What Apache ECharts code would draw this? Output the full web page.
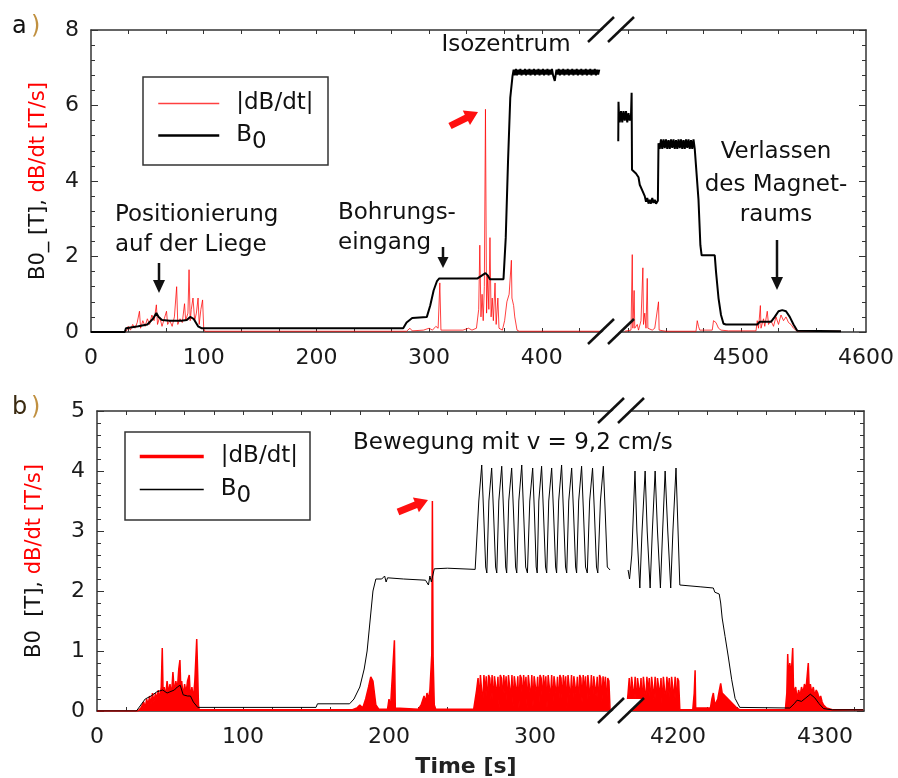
<!DOCTYPE html>
<html><head><meta charset="utf-8">
<script src="https://cdn.jsdelivr.net/npm/echarts@6/dist/echarts.min.js"></script>
<style>html,body{margin:0;padding:0;background:#fff}#c{width:898px;height:778px}</style>
</head><body><div id="c"></div>
<script>
const FONT = 'DejaVu Sans';

// ---------- Panel a) data ----------
const aDbdtLeft = [[0,0],[30,0],[32,0.05],[33,0.15],[35,0.05],[37,0.2],[39,0.1],[41,0.25],[43,0.55],[44,0.1],[46,0.3],[48,0.15],[50,0.35],[52,0.2],[54,0.45],[56,0.3],[58,0.72],[59,0.2],[61,0.4],[63,0.15],[65,0.35],[67,0.55],[68,0.2],[70,0.3],[72,0.15],[74,0.4],[76,1.2],[77,0.2],[79,0.35],[81,0.25],[83,0.75],[84,0.3],[86,0.5],[87,1.65],[88,0.3],[89,0.6],[90.5,0.9],[92,0.3],[93.5,0.5],[95,0.9],[96,0.2],[97.5,0.6],[99,0.85],[100,0.1],[101,0.02],[280,0.02],[283,0.1],[285,0.03],[295,0.05],[300,0.1],[303,0.05],[306,0.15],[308,0.1],[309.5,1.3],[310.5,0.05],[330,0.05],[335,0.1],[338,0.05],[342,0.1],[344,0.6],[345,2.3],[346,0.4],[347,1.0],[348,0.3],[349,1.2],[350,5.9],[351,0.5],[352,1.5],[353,0.6],[354,2.5],[355,0.4],[356,0.9],[357,0.3],[358.5,1.3],[359.5,0.2],[361,0.9],[362,0.1],[365,0.05],[367,0.3],[369,0.8],[371,1.0],[373,1.9],[373.5,0.9],[375,0.7],[376,0.4],[378,0.05],[380,0.02],[452,0.02]];
const aDbdtRight = [[4407,0.02],[4412,0.05],[4413,2.05],[4413.5,0.1],[4414.5,1.1],[4415,0.1],[4417,0.2],[4418,0.05],[4420,0.3],[4421.5,1.7],[4422,0.2],[4423,0.5],[4424,0.1],[4425,1.42],[4425.5,0.1],[4427,0.15],[4429,0.05],[4431,0.1],[4434,0.8],[4434.5,0.05],[4440,0.02],[4464,0.02],[4465,0.3],[4466,0.15],[4467,0.05],[4477,0.05],[4478,0.3],[4480,0.25],[4482,0.1],[4484,0.05],[4490,0.03],[4512,0.03],[4513,0.3],[4514,0.1],[4515.5,0.7],[4516,0.1],[4518,0.35],[4519,0.15],[4521,0.55],[4522,0.2],[4524,0.3],[4526,0.15],[4528,0.4],[4530,0.2],[4532,0.45],[4534,0.3],[4536,0.4],[4538,0.25],[4540,0.2],[4542,0.1],[4545,0.02],[4580,0.02]];
const aB0Left = [[0,0],[30,0],[31,0.1],[42,0.15],[50,0.2],[55,0.35],[58,0.5],[60,0.4],[63,0.32],[70,0.3],[80,0.3],[85,0.32],[88,0.4],[91,0.35],[95,0.15],[98,0.1],[150,0.1],[200,0.1],[277,0.1],[280,0.25],[285,0.37],[298,0.4],[301,0.7],[304,1.1],[307,1.35],[309,1.42],[343,1.42],[347,1.5],[350,1.56],[352,1.5],[354,1.4],[366,1.4],[368,2.5],[370,4.5],[372,6.2],[374,6.78],[375,6.95],[376,6.8],[377,6.97],[378,6.8],[379,6.95],[380,6.82],[381,6.97],[382,6.8],[383,6.94],[384,6.82],[385,6.97],[386,6.8],[387,6.95],[388,6.82],[389,6.97],[390,6.8],[391,6.95],[392,6.82],[393,6.97],[394,6.8],[395,6.95],[396,6.82],[397,6.97],[398,6.8],[399,6.95],[400,6.82],[401,6.97],[402,6.8],[403,6.95],[404,6.82],[405,6.97],[406,6.8],[407,6.95],[408,6.82],[409,6.97],[410,6.8],[411.5,6.65],[413,6.95],[414,6.82],[415,6.97],[416,6.8],[417,6.95],[418,6.82],[419,6.97],[420,6.8],[421,6.95],[422,6.82],[423,6.97],[424,6.8],[425,6.95],[426,6.82],[427,6.97],[428,6.8],[429,6.95],[430,6.82],[431,6.97],[432,6.8],[433,6.95],[434,6.82],[435,6.97],[436,6.8],[437,6.95],[438,6.82],[439,6.97],[440,6.8],[441,6.95],[442,6.82],[443,6.97],[444,6.8],[445,6.95],[446,6.82],[447,6.97],[448,6.8],[449,6.95],[450,6.82],[451,6.95]];
const aB0Right = [[4401.8,5.05],[4402,6.1],[4402.3,5.8],[4403,5.55],[4404,5.85],[4405,5.55],[4406,5.85],[4407,5.6],[4408,5.85],[4409,5.55],[4410,5.8],[4411,5.6],[4412,5.75],[4412.5,6.34],[4412.8,4.3],[4414,4.25],[4416,4.2],[4418,4.1],[4419,3.9],[4421,3.75],[4423,3.6],[4424,3.45],[4425,3.55],[4426,3.4],[4427,3.5],[4428,3.4],[4429,3.55],[4430,3.42],[4431,3.5],[4432,3.4],[4433.5,3.48],[4434,5.0],[4435,4.85],[4436,5.1],[4437,4.85],[4438,5.1],[4439,4.87],[4440,5.1],[4441,4.85],[4442,5.08],[4443,4.85],[4444,5.1],[4445,4.88],[4446,5.1],[4447,4.85],[4448,5.08],[4449,4.85],[4450,5.1],[4451,4.87],[4452,5.1],[4453,4.85],[4454,5.08],[4455,4.85],[4456,5.1],[4457,4.88],[4458,5.1],[4459,4.85],[4460,5.08],[4461,4.85],[4462,5.1],[4463,4.85],[4464.5,4.9],[4466,3.5],[4467.5,2.3],[4468.5,2.03],[4479,2.03],[4480,1.6],[4482,0.9],[4484,0.45],[4486,0.22],[4488,0.2],[4513,0.2],[4515,0.27],[4524,0.27],[4527,0.4],[4530,0.55],[4533,0.58],[4536,0.55],[4539,0.4],[4542,0.2],[4545,0.03],[4580,0.02]];

// ---------- Panel b) data ----------
const bDbdtLeft = [[0,0],[28,0],[30,0.05],[32,0.15],[33,0.05],[34,0.2],[35,0.1],[36,0.25],[37,0.12],[38,0.3],[39,0.15],[40,0.3],[41,0.2],[42,0.35],[43,0.2],[44,0.4],[44.7,1.05],[45.3,0.25],[46,0.4],[47,0.25],[48,0.5],[49,0.3],[50,0.45],[51,0.25],[52,0.65],[53,0.3],[54,0.5],[55,0.35],[56,0.7],[56.8,0.85],[57.5,0.3],[58,0.5],[59,0.25],[60,0.45],[61,0.3],[62,0.5],[63.2,0.6],[64,0.2],[65,0.4],[66,0.2],[67,0.5],[68.3,1.2],[69,0.6],[69.5,0.1],[70,0.02],[175,0.02],[178,0.05],[180,0.1],[182,0.05],[184,0.2],[186,0.4],[187.5,0.57],[189,0.5],[190,0.3],[191,0.1],[193,0.03],[199,0.03],[200,0.2],[201,0.05],[203.7,1.18],[204.3,0.05],[220,0.03],[222,0.1],[224,0.25],[225,0.15],[226,0.3],[227,0.2],[228,0.35],[229.3,0.95],[229.7,3.5],[230.2,0.9],[231,0.1],[232,0.03],[258,0.03],
[259.0,0.05],[260.0,0.35],[261.0,0.55],[261.8,0.15],[262.6,0.6],[263.4,0.58],[264.2,0.1],[265.0,0.6],[265.8,0.3],[266.6,0.58],[267.4,0.05],[268.2,0.6],[269.0,0.55],[269.8,0.2],[270.6,0.6],[271.4,0.08],[272.2,0.58],[273.0,0.6],[273.8,0.25],[274.6,0.57],[275.4,0.05],[276.2,0.6],[277.0,0.55],[277.8,0.15],[278.6,0.6],[279.4,0.3],[280.2,0.58],[281.0,0.05],[281.8,0.6],[282.6,0.57],[283.4,0.2],[284.2,0.6],[285.0,0.08],[285.8,0.58],[286.6,0.6],[287.4,0.25],[288.2,0.58],[289.0,0.05],[289.8,0.6],[290.6,0.55],[291.4,0.15],[292.2,0.6],[293.0,0.3],[293.8,0.57],[294.6,0.05],[295.4,0.6],[296.2,0.58],[297.0,0.2],[297.8,0.6],[298.6,0.08],[299.4,0.58],[300.2,0.6],[301.0,0.25],[301.8,0.57],[302.6,0.05],[303.4,0.6],[304.2,0.55],[305.0,0.15],[305.8,0.6],[306.6,0.3],[307.4,0.58],[308.2,0.05],[309.0,0.6],[309.8,0.57],[310.6,0.2],[311.4,0.6],[312.2,0.08],[313.0,0.58],[313.8,0.6],[314.6,0.25],[315.4,0.57],[316.2,0.05],[317.0,0.6],[317.8,0.55],[318.6,0.15],[319.4,0.6],[320.2,0.3],[321.0,0.58],[321.8,0.05],[322.6,0.6],[323.4,0.57],[324.2,0.2],[325.0,0.6],[325.8,0.08],[326.6,0.58],[327.4,0.6],[328.2,0.25],[329.0,0.57],[329.8,0.05],[330.6,0.6],[331.4,0.55],[332.2,0.15],[333.0,0.6],[333.8,0.3],[334.6,0.58],[335.4,0.05],[336.2,0.6],[337.0,0.57],[337.8,0.2],[338.6,0.6],[339.4,0.08],[340.2,0.58],[341.0,0.6],[341.8,0.25],[342.6,0.57],[343.4,0.05],[344.2,0.6],[345.0,0.55],[345.8,0.15],[346.6,0.58],[347.4,0.3],[348.2,0.57],[349.0,0.05],[349.8,0.55],[350.6,0.5],[351.4,0.02]];
const bDbdtRight = [[4165,0.02],[4166,0.3],[4166.8,0.55],[4167.6,0.1],[4168.4,0.57],[4169.2,0.55],[4170,0.2],[4170.8,0.57],[4171.6,0.05],[4172.4,0.55],[4173.2,0.57],[4174,0.25],[4174.8,0.55],[4175.6,0.05],[4176.4,0.57],[4177.2,0.55],[4178,0.15],[4178.8,0.57],[4179.6,0.3],[4180.4,0.55],[4181.2,0.05],[4182,0.57],[4182.8,0.55],[4183.6,0.2],[4184.4,0.57],[4185.2,0.08],[4186,0.55],[4186.8,0.57],[4187.6,0.25],[4188.4,0.55],[4189.2,0.05],[4190,0.57],[4190.8,0.55],[4191.6,0.15],[4192.4,0.57],[4193.2,0.3],[4194,0.55],[4194.8,0.05],[4195.6,0.57],[4196.4,0.55],[4197.2,0.2],[4198,0.57],[4198.8,0.08],[4199.6,0.55],[4200.4,0.5],[4201.2,0.02],[4210,0.02],[4211,0.3],[4211.6,0.68],[4212,0.05],[4222,0.05],[4223,0.2],[4224,0.3],[4225,0.1],[4227,0.2],[4229,0.46],[4230,0.3],[4232,0.25],[4234,0.2],[4236,0.15],[4238,0.1],[4240,0.05],[4242,0.02],[4273,0.02],[4274,0.3],[4274.6,0.95],[4275.2,0.5],[4276,0.8],[4277,0.6],[4278,1.05],[4278.6,0.3],[4280,0.4],[4281,0.2],[4282,0.35],[4283,0.25],[4284,0.4],[4285,0.3],[4286,0.45],[4287,0.35],[4288.6,0.8],[4289.3,0.3],[4290,0.45],[4291,0.3],[4292,0.4],[4293,0.25],[4294,0.35],[4295,0.3],[4296,0.2],[4297,0.25],[4298,0.15],[4299,0.1],[4301,0.05],[4305,0.02],[4326,0.02]];
const bB0Left = [[0,0],[27,0],[30,0.1],[33,0.2],[37,0.25],[41,0.32],[45,0.35],[48,0.3],[50,0.32],[53,0.35],[55,0.4],[57,0.43],[59,0.27],[62,0.25],[64,0.25],[66,0.15],[69,0.06],[100,0.06],[150,0.06],[151,0.12],[173,0.12],[176,0.2],[180,0.4],[183,0.7],[185,1.0],[187,1.5],[189,2.0],[191,2.2],[195,2.2],[197,2.25],[198,2.15],[199,2.22],[210,2.2],[225,2.18],[227,2.1],[228,2.25],[229,2.15],[231,2.37],[240,2.38],[259,2.36],
[261.5,3.5],[263.5,4.1],[264.8,3.3],[266.2,2.4],[267.0,2.3],[268.4,3.5],[270.3,4.05],[271.6,3.3],[273.0,2.4],[273.8,2.3],[275.2,3.5],[277.2,4.08],[278.5,3.3],[279.9,2.4],[280.6,2.3],[282.0,3.5],[284.0,4.05],[285.3,3.3],[286.7,2.4],[287.5,2.3],[288.9,3.5],[290.9,4.1],[292.2,3.3],[293.6,2.4],[294.8,2.3],[296.4,3.5],[298.4,4.05],[299.6,3.3],[300.8,2.4],[301.5,2.3],[302.6,3.5],[304.5,4.08],[305.8,3.3],[307.2,2.4],[308.0,2.3],[309.4,3.5],[311.4,4.05],[312.7,3.3],[314.1,2.4],[314.8,2.3],[316.2,3.5],[318.2,4.1],[319.5,3.3],[320.9,2.4],[321.7,2.3],[323.1,3.5],[325.1,4.05],[326.4,3.3],[327.8,2.4],[328.5,2.3],[329.9,3.5],[331.9,4.08],[333.2,3.3],[334.6,2.4],[335.8,2.3],[337.4,3.5],[339.4,4.05],[340.7,3.3],[342.1,2.4],[343.0,2.3],[344.8,3.5],[346.8,4.08],[348.1,3.3],[349.5,2.4],[351.4,2.35]];
const bB0Right = [[4166,2.35],[4167,2.2],[4168.5,2.6],[4170.7,4.0],[4172,3.0],[4174,2.05],[4175.5,3.0],[4177.6,4.0],[4179,3.0],[4181,2.05],[4182.5,3.0],[4184.4,4.0],[4186,3.0],[4188,2.05],[4189.5,3.0],[4191.2,4.0],[4193,3.0],[4195,2.05],[4196.5,3.0],[4198.6,4.05],[4200,3.0],[4201.2,2.1],[4202,2.08],[4215,2.07],[4224,2.05],[4225,1.98],[4228,1.95],[4229,1.8],[4230,1.55],[4232,1.24],[4234.2,0.9],[4236.5,0.52],[4238.8,0.21],[4242,0.06],[4276,0.05],[4279,0.12],[4281,0.18],[4284,0.16],[4287,0.22],[4290,0.28],[4293,0.22],[4296,0.12],[4299,0.04],[4305,0.02],[4326,0.02]];

// ---------- ticks & labels ----------
const aLabelsLeft = [0,100,200,300,400];
const aTicksLeft = [33.33,66.67,100,133.33,166.67,200,233.33,266.67,300,333.33,366.67,400,433.33];
const aLabelsRight = [4500,4600];
const aTicksRight = [4410,4440,4470,4500,4530,4560,4590];
const bLabelsLeft = [0,100,200,300];
const bTicksLeft = [20,40,60,80,100,120,140,160,180,200,220,240,260,280,300,320,340];
const bLabelsRight = [4200,4300];
const bTicksRight = [4180,4200,4220,4240,4260,4280,4300,4320];

const FRAME = '#333';
function xAx(grid, min, max, pos, labels, ticks) {
  return {
    type: 'value', gridIndex: grid, position: pos, min: min, max: max,
    axisLine: { show: true, onZero: false, lineStyle: { color: FRAME, width: 1.5 } },
    axisTick: { show: true, inside: true, length: 4, customValues: ticks, lineStyle: { color: FRAME, width: 1 } },
    axisLabel: { show: pos === 'bottom', customValues: labels, margin: 15, fontSize: 22, fontFamily: FONT, color: '#1a1a1a',
      formatter: function (v) { return String(Math.round(v)); } },
    splitLine: { show: false }, minorTick: { show: false }, minorSplitLine: { show: false }
  };
}
function yAx(grid, max, interval, pos, showLabels, name, nameGap) {
  const o = {
    type: 'value', gridIndex: grid, position: pos, min: 0, max: max, interval: interval,
    axisLine: { show: true, onZero: false, lineStyle: { color: FRAME, width: 1.5 } },
    axisTick: { show: true, inside: true, length: 7, lineStyle: { color: FRAME, width: 1 } },
    minorTick: { show: true, splitNumber: 5, length: 4, lineStyle: { color: FRAME, width: 1 } },
    axisLabel: { show: showLabels, margin: 12, fontSize: 22, fontFamily: FONT, color: '#1a1a1a' },
    splitLine: { show: false }, minorSplitLine: { show: false }
  };
  if (name) {
    o.name = name; o.nameLocation = 'middle'; o.nameGap = nameGap;
    o.nameTextStyle = { fontSize: 21, fontFamily: FONT,
      rich: { k: { fontSize: 21, fontFamily: FONT, color: '#111' }, r: { fontSize: 21, fontFamily: FONT, color: '#ff0000' } } };
  }
  return o;
}
function lineSeries(name, data, xi, yi, color, width, area) {
  const s = { type: 'line', name: name, data: data, xAxisIndex: xi, yAxisIndex: yi,
    symbol: 'none', showSymbol: false, smooth: false, animation: false, silent: true, clip: true,
    lineStyle: { color: color, width: width }, itemStyle: { color: color } };
  if (area) s.areaStyle = { color: color, opacity: 1 };
  return s;
}
function arrowDown(x, y1, y2, y3, hw) {
  return [
    { type: 'line', z: 100, shape: { x1: x, y1: y1, x2: x, y2: y2 + 1 }, style: { stroke: '#111', lineWidth: 2.5 } },
    { type: 'polygon', z: 100, shape: { points: [[x - hw, y2], [x + hw, y2], [x, y3]] }, style: { fill: '#111' } }
  ];
}
function txt(x, y, s, size, align, color) {
  return { type: 'text', z: 100, x: x, y: y,
    style: { text: s, fontSize: size, fontFamily: FONT, fill: color || '#111', align: align || 'left', verticalAlign: 'middle' } };
}
function breakMark(x, y) {
  return [
    { type: 'polygon', z: 99, shape: { points: [[x - 20, y + 12], [x + 5, y - 12], [x + 22, y - 12], [x - 3, y + 12]] }, style: { fill: '#fff' } },
    { type: 'line', z: 100, shape: { x1: x - 22, y1: y + 12, x2: x + 4, y2: y - 13 }, style: { stroke: '#111', lineWidth: 2.5 } },
    { type: 'line', z: 100, shape: { x1: x - 2, y1: y + 12, x2: x + 24, y2: y - 13 }, style: { stroke: '#111', lineWidth: 2.5 } }
  ];
}
function redArrow(pts) {
  return { type: 'polygon', z: 100, shape: { points: pts }, style: { fill: '#ff1010' } };
}

const legendNames = { dBdt_a: '|dB/dt|', B0_a: 'B{s|0}', dBdt_b: '|dB/dt|', B0_b: 'B{s|0}' };
function legend(items, left, top, w, gap) {
  return {
    data: items, orient: 'vertical', left: left, top: top, itemWidth: w, itemHeight: 24, itemGap: gap,
    selectedMode: false, padding: 0,
    itemStyle: { opacity: 0, borderWidth: 0 },
    formatter: function (n) { return legendNames[n]; },
    textStyle: { fontSize: 23, fontFamily: FONT, color: '#111', padding: [0, 0, 0, 12],
      rich: { s: { fontSize: 23, fontFamily: FONT, color: '#111', padding: [14, 0, 0, 0] } } }
  };
}

const chart = echarts.init(document.getElementById('c'), null, { renderer: 'canvas' });
chart.setOption({
  animation: false,
  backgroundColor: '#fff',
  textStyle: { fontFamily: FONT },
  grid: [
    { left: 91, top: 30, width: 519, height: 302, containLabel: false, outerBoundsMode: 'none' },
    { left: 610, top: 30, width: 256, height: 302, containLabel: false, outerBoundsMode: 'none' },
    { left: 97, top: 411, width: 523, height: 300, containLabel: false, outerBoundsMode: 'none' },
    { left: 620, top: 411, width: 244, height: 300, containLabel: false, outerBoundsMode: 'none' }
  ],
  xAxis: [
    xAx(0, 0, 460.5, 'bottom', aLabelsLeft, aTicksLeft),
    xAx(0, 0, 460.5, 'top', aLabelsLeft, aTicksLeft),
    xAx(1, 4395.2, 4600, 'bottom', aLabelsRight, aTicksRight),
    xAx(1, 4395.2, 4600, 'top', aLabelsRight, aTicksRight),
    xAx(2, 0, 358.2, 'bottom', bLabelsLeft, bTicksLeft),
    xAx(2, 0, 358.2, 'top', bLabelsLeft, bTicksLeft),
    xAx(3, 4160.5, 4326.5, 'bottom', bLabelsRight, bTicksRight),
    xAx(3, 4160.5, 4326.5, 'top', bLabelsRight, bTicksRight)
  ],
  yAxis: [
    yAx(0, 8, 2, 'left', true, '{k|B0_ [T],} {r|dB/dt [T/s]}', 42),
    yAx(1, 8, 2, 'right', false),
    yAx(2, 5, 1, 'left', true, '{k|B0  [T],} {r|dB/dt [T/s]}', 52),
    yAx(3, 5, 1, 'right', false)
  ],
  legend: [
    legend([{ name: 'dBdt_a', lineStyle: { width: 1.5 } }, { name: 'B0_a', lineStyle: { width: 2.5 } }], 157, 92, 61, 9),
    legend([{ name: 'dBdt_b', lineStyle: { width: 3.5 } }, { name: 'B0_b', lineStyle: { width: 1.5 } }], 138, 445, 64, 10)
  ],
  series: [
    lineSeries('dBdt_a', aDbdtLeft, 0, 0, 'rgba(255,0,0,0.75)', 1),
    lineSeries('dBdt_a', aDbdtRight, 2, 1, 'rgba(255,0,0,0.75)', 1),
    lineSeries('B0_a', aB0Left, 0, 0, '#000', 2),
    lineSeries('B0_a', aB0Right, 2, 1, '#000', 2),
    lineSeries('dBdt_b', bDbdtLeft, 4, 2, '#ff0000', 1.5, true),
    lineSeries('dBdt_b', bDbdtRight, 6, 3, '#ff0000', 1.5, true),
    lineSeries('B0_b', bB0Left, 4, 2, '#000', 1),
    lineSeries('B0_b', bB0Right, 6, 3, '#000', 1)
  ],
  graphic: [
    { type: 'rect', z: 3, shape: { x: 143, y: 77, width: 185, height: 88 }, style: { fill: 'none', stroke: '#333', lineWidth: 1.5 } },
    { type: 'rect', z: 3, shape: { x: 125, y: 432, width: 185, height: 88 }, style: { fill: 'none', stroke: '#333', lineWidth: 1.5 } },
    txt(12, 27, 'a', 24, 'left', '#111'), txt(31, 27, ')', 24, 'left', '#c09040'),
    txt(12, 408, 'b', 24, 'left', '#3a2a10'), txt(31, 408, ')', 24, 'left', '#c09040'),
    txt(115, 215, 'Positionierung', 23), txt(115, 245, 'auf der Liege', 23),
    txt(338, 213, 'Bohrungs-', 23), txt(338, 243, 'eingang', 23),
    txt(506, 45, 'Isozentrum', 23, 'center'),
    txt(776, 152, 'Verlassen', 23, 'center'), txt(776, 185, 'des Magnet-', 23, 'center'), txt(776, 215, 'raums', 23, 'center'),
    ...arrowDown(159, 263, 280, 293, 6),
    ...arrowDown(443, 247, 257, 268, 5.5),
    ...arrowDown(777, 240, 277, 290, 6),
    redArrow([[451.6,129.1],[468.0,120.9],[470.0,125.0],[478,112],[462.8,110.6],[464.8,114.7],[448.4,122.9]]),
    txt(353, 443, 'Bewegung mit v = 9,2 cm/s', 23),
    redArrow([[399.3,515.2],[417.2,508.0],[418.9,512.2],[428,500],[412.9,497.4],[414.6,501.6],[396.7,508.8]]),
    { type: 'text', z: 100, x: 466, y: 767, style: { text: 'Time [s]', fontSize: 22, fontWeight: 'bold', fontFamily: FONT, fill: '#222', align: 'center', verticalAlign: 'middle' } },
    ...breakMark(610, 30), ...breakMark(610, 332),
    ...breakMark(620, 411), ...breakMark(620, 711)
  ]
});
</script>
</body></html>
